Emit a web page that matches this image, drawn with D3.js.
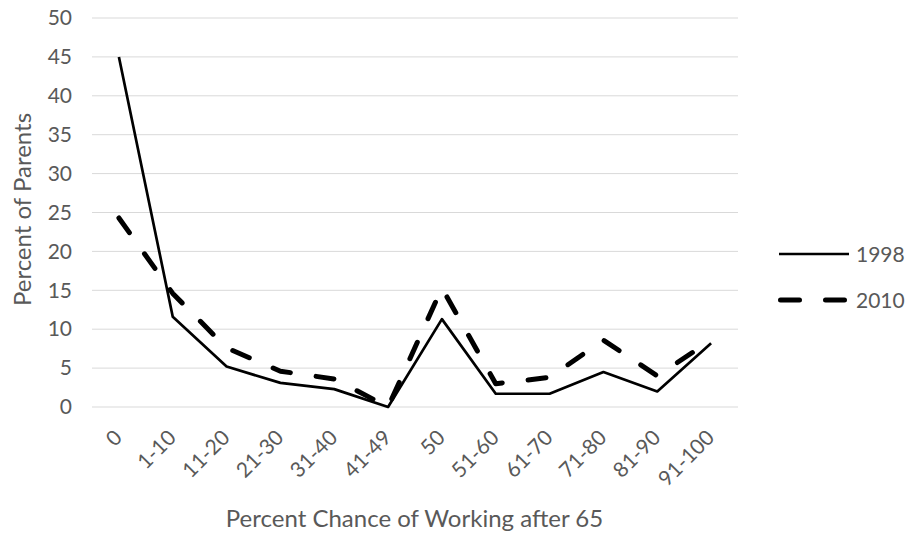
<!DOCTYPE html>
<html><head><meta charset="utf-8">
<script src="https://cdn.jsdelivr.net/npm/d3@7"></script>
<style>body{margin:0;background:#fff;} text{font-family:Lato,"Open Sans",sans-serif;fill:#595959;}</style>
</head><body>
<svg id="c" width="911" height="539"></svg>
<script>
const categories = ["0","1-10","11-20","21-30","31-40","41-49","50","51-60","61-70","71-80","81-90","91-100"];
const values1998 = [45,11.6,5.2,3.1,2.3,0,11.3,1.7,1.7,4.5,2.0,8.2];
const values2010 = [24.3,14.6,7.6,4.6,3.6,0,15.3,3.0,3.8,8.6,4.0,8.6];
const seriesNames = ["1998","2010"];
const yTicks = [0,5,10,15,20,25,30,35,40,45,50];

const FF = 'Lato,"Open Sans",sans-serif';
const svg = d3.select("#c");
const L = 92, R = 738, T = 18, B = 407;
const x = d3.scalePoint().domain(categories).range([L, R]).padding(0.5);
const y = d3.scaleLinear().domain([0, 50]).range([B, T]);

// gridlines
svg.append("g").selectAll("line").data(yTicks).join("line")
  .attr("x1", L).attr("x2", R).attr("y1", d => y(d)).attr("y2", d => y(d))
  .attr("stroke", "#d9d9d9").attr("stroke-width", 1);

// y axis labels
const yAxis = d3.axisLeft(y).tickValues(yTicks).tickSize(0).tickPadding(0);
const gy = svg.append("g").attr("transform", `translate(${L-20},0)`).call(yAxis);
gy.attr("font-size", null).attr("font-family", null);
gy.select(".domain").remove();
gy.selectAll("text").attr("font-size", 21).attr("text-anchor","end").attr("fill","#595959")
  .style("font-family", FF);

// x axis labels
const xAxis = d3.axisBottom(x).tickSize(0).tickPadding(0);
const gx = svg.append("g").attr("transform", `translate(0,${B})`).call(xAxis);
gx.attr("font-size", null).attr("font-family", null);
gx.select(".domain").remove();
gx.selectAll("text").attr("font-size", 21).attr("text-anchor","end").attr("dy", 0)
  .attr("fill","#595959")
  .style("font-family", FF)
  .attr("transform", "translate(4,32) rotate(-45)");

const line = d3.line().x((d,i) => x(categories[i])).y(d => y(d));
svg.append("path").datum(values1998).attr("d", line)
  .attr("fill","none").attr("stroke","#000").attr("stroke-width",2.7).attr("stroke-linejoin","round");
svg.append("path").datum(values2010).attr("d", line)
  .attr("fill","none").attr("stroke","#000").attr("stroke-width",5)
  .attr("stroke-dasharray","18 26").attr("stroke-linecap","round").attr("stroke-linejoin","round");

// legend
const leg = svg.append("g");
const ly = [254, 300];
leg.append("line").attr("x1",779).attr("x2",849).attr("y1",ly[0]).attr("y2",ly[0])
  .attr("stroke","#000").attr("stroke-width",2.7);
leg.append("line").attr("x1",780.5).attr("x2",844.5).attr("y1",ly[1]).attr("y2",ly[1])
  .attr("stroke","#000").attr("stroke-width",5).attr("stroke-linecap","round").attr("stroke-dasharray","19 26");
leg.selectAll("text").data(seriesNames).join("text")
  .attr("x",856).attr("y",(d,i)=>ly[i]).attr("dy","0.36em").attr("font-size",21).text(d=>d);

// axis titles
svg.append("text").attr("transform",`translate(31,${(112+307)/2}) rotate(-90)`)
  .attr("text-anchor","middle").attr("font-size",24).text("Percent of Parents");
svg.append("text").attr("x",414.5).attr("y",527).attr("text-anchor","middle")
  .attr("font-size",24).text("Percent Chance of Working after 65");
</script>
</body></html>
